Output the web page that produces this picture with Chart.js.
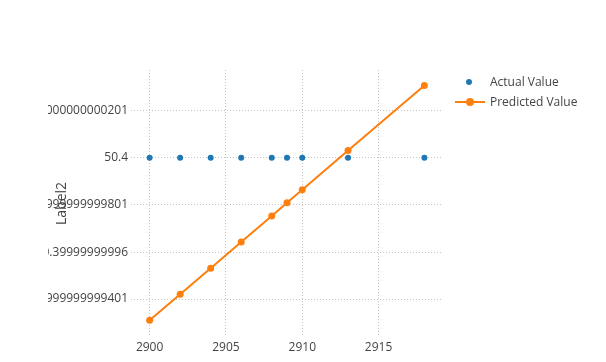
<!DOCTYPE html>
<html>
<head>
<meta charset="utf-8">
<script src="https://cdn.jsdelivr.net/npm/chart.js@4/dist/chart.umd.min.js"></script>
<style>
  html, body { margin: 0; padding: 0; background: #fff; }
  body { width: 606px; height: 362px; position: relative; overflow: hidden; font-family: 'Open Sans', sans-serif; }
  #wrap { position: absolute; left: 48px; top: 0; width: 558px; height: 362px; overflow: hidden; }
  .legend { position: absolute; left: 0; top: 0; font-size: 12px; color: #444; }
  .item { position: absolute; height: 16px; line-height: 16px; white-space: nowrap; }
  .item span { position: absolute; left: 35px; top: 0; }
  .dot { position: absolute; border-radius: 50%; }
  .ln { position: absolute; height: 2px; background: #ff7f0e; }
</style>
</head>
<body>
<div id="wrap"><canvas id="chart" width="558" height="362"></canvas></div>

<div class="legend">
  <div class="item" style="left:455px; top:74px;">
    <div class="dot" style="left:11px; top:5px; width:6px; height:6px; background:#1f77b4;"></div>
    <span>Actual Value</span>
  </div>
  <div class="item" style="left:455px; top:94px;">
    <div class="ln" style="left:0; top:7px; width:30px;"></div>
    <div class="dot" style="left:11px; top:4px; width:8px; height:8px; background:#ff7f0e;"></div>
    <span>Predicted Value</span>
  </div>
</div>

<script>
// dados
const years = [2900, 2902, 2904, 2906, 2908, 2909, 2910, 2913, 2918];
const actualValues = [50.4, 50.4, 50.4, 50.4, 50.4, 50.4, 50.4, 50.4, 50.4];
const predictedValues = [
  50.3999999999311, 50.3999999999421, 50.3999999999531, 50.3999999999643,
  50.3999999999753, 50.3999999999809, 50.3999999999864, 50.4000000000031,
  50.4000000000306
];

// eixos
const xTicks = [2900, 2905, 2910, 2915];
const yTicks = [50.4000000000201, 50.4, 50.3999999999801, 50.39999999996, 50.3999999999401];
const yTickLabels = ['50.4000000000201', '50.4', '50.3999999999801', '50.39999999996', '50.3999999999401'];

const textColor = '#444';
const gridColor = '#c4c4c4';

const toPoints = (xs, ys) => xs.map((x, i) => ({ x: x, y: ys[i] }));

new Chart(document.getElementById('chart'), {
  type: 'scatter',
  data: {
    datasets: [
      {
        label: 'Actual Value',
        data: toPoints(years, actualValues),
        backgroundColor: '#1f77b4',
        borderColor: '#1f77b4',
        pointRadius: 3,
        pointBorderWidth: 0,
        showLine: false,
        order: 1
      },
      {
        label: 'Predicted Value',
        data: toPoints(years, predictedValues),
        backgroundColor: '#ff7f0e',
        borderColor: '#ff7f0e',
        borderWidth: 2,
        pointRadius: 3.5,
        pointBorderWidth: 0,
        showLine: true,
        order: 0
      }
    ]
  },
  options: {
    responsive: false,
    animation: false,
    layout: { padding: { top: 70, right: 163, bottom: 0, left: 0 } },
    plugins: {
      legend: { display: false },
      tooltip: { enabled: false }
    },
    scales: {
      x: {
        type: 'linear',
        min: 2898.78,
        max: 2919.22,
        afterBuildTicks: scale => { scale.ticks = xTicks.map(v => ({ value: v })); },
        afterFit: scale => { scale.height = 25; },
        grid: { color: gridColor, drawTicks: false },
        border: { display: false, dash: [1, 2] },
        ticks: {
          color: textColor,
          padding: 3,
          maxRotation: 0,
          font: { family: 'Open Sans', size: 12 },
          callback: v => String(v)
        }
      },
      y: {
        type: 'linear',
        min: 50.399999999924,
        max: 50.4000000000372,
        afterBuildTicks: scale => { scale.ticks = yTicks.map(v => ({ value: v })); },
        afterFit: scale => { scale.width = 83; },
        grid: { color: gridColor, drawTicks: false },
        border: { display: false, dash: [1, 2] },
        title: {
          display: true,
          text: 'Label2',
          color: textColor,
          padding: { top: 6, bottom: 0 },
          font: { family: 'Open Sans', size: 14 }
        },
        ticks: {
          color: textColor,
          padding: 3,
          font: { family: 'Open Sans', size: 12 },
          callback: (v, i) => yTickLabels[i]
        }
      }
    }
  }
});
</script>
</body>
</html>
